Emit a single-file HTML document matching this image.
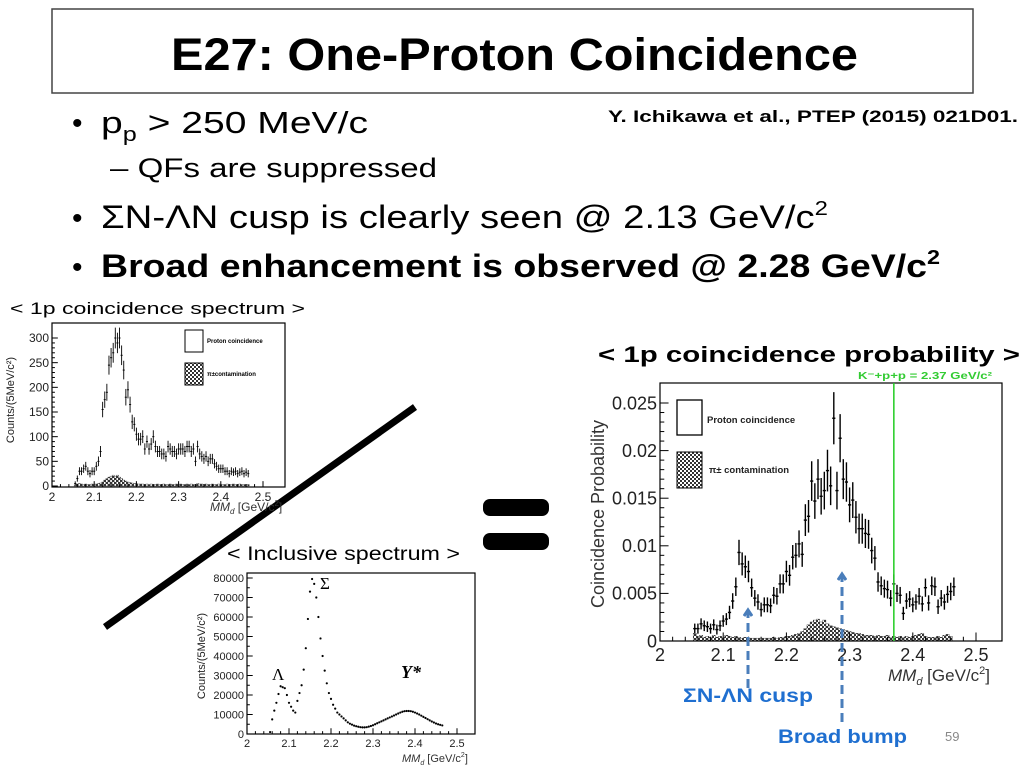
<!DOCTYPE html>
<html><head><meta charset="utf-8"><style>
html,body{margin:0;padding:0;background:#fff;}
svg{display:block;font-family:"Liberation Sans",sans-serif;}
</style></head><body>
<svg id="s" width="1024" height="768" viewBox="0 0 1024 768" xmlns="http://www.w3.org/2000/svg">
<defs>
<pattern id="chk" width="4" height="4" patternUnits="userSpaceOnUse"><rect width="4" height="4" fill="#fff"/><rect width="2" height="2" fill="#333"/><rect x="2" y="2" width="2" height="2" fill="#333"/></pattern>
<marker id="ah" markerWidth="10" markerHeight="10" refX="5" refY="5" orient="auto" markerUnits="userSpaceOnUse"><path d="M1,1 L7,5 L1,9" fill="none" stroke="#4a7ebb" stroke-width="3"/></marker>
</defs>
<rect x="52" y="9" width="921" height="84" fill="#fff" stroke="#444" stroke-width="1.5"/>
<text x="171" y="70" font-size="45" font-weight="bold" textLength="687" lengthAdjust="spacingAndGlyphs">E27: One-Proton Coincidence</text>
<g>
<text x="72" y="133" font-size="30">•</text>
<text x="101" y="133" font-size="31" textLength="267" lengthAdjust="spacingAndGlyphs">p<tspan font-size="20" dy="8">p</tspan><tspan dy="-8"> &gt; 250 MeV/c</tspan></text>
<text x="110" y="177" font-size="27" textLength="327" lengthAdjust="spacingAndGlyphs">– QFs are suppressed</text>
<text x="72" y="228" font-size="30">•</text>
<text x="101" y="228" font-size="32" textLength="727" lengthAdjust="spacingAndGlyphs">ΣN-ΛN cusp is clearly seen @ 2.13 GeV/c<tspan font-size="20" dy="-13">2</tspan></text>
<text x="72" y="277" font-size="30">•</text>
<text x="101" y="277" font-size="32" font-weight="bold" textLength="839" lengthAdjust="spacingAndGlyphs">Broad enhancement is observed @ 2.28 GeV/c<tspan font-size="20" dy="-13">2</tspan></text>
</g>
<text x="608" y="122" font-size="17" font-weight="bold" textLength="410" lengthAdjust="spacingAndGlyphs">Y. Ichikawa et al., PTEP (2015) 021D01.</text>
<text x="10" y="314" font-size="17" textLength="295" lengthAdjust="spacingAndGlyphs">&lt; 1p coincidence spectrum &gt;</text>
<text x="598" y="362" font-size="22" font-weight="bold" textLength="422" lengthAdjust="spacingAndGlyphs">&lt; 1p coincidence probability &gt;</text>
<text x="227" y="560" font-size="19" textLength="233" lengthAdjust="spacingAndGlyphs">&lt; Inclusive spectrum &gt;</text>
<line x1="105" y1="627" x2="415" y2="407" stroke="#000" stroke-width="7"/>
<g>
<rect x="483" y="499" width="66" height="17" rx="7" fill="#000"/>
<rect x="483" y="533" width="66" height="17" rx="7" fill="#000"/>
</g>
<g id="c1"></g>
<g id="c2"></g>
<g id="c3"></g>
<line x1="748" y1="688" x2="748" y2="612" stroke="#4a7ebb" stroke-width="3" stroke-dasharray="9,5" marker-end="url(#ah)"/>
<line x1="842" y1="722" x2="842" y2="576" stroke="#4a7ebb" stroke-width="3" stroke-dasharray="9,5" marker-end="url(#ah)"/>
<text x="683" y="702" font-size="19" font-weight="bold" fill="#1f6fd0" textLength="130" lengthAdjust="spacingAndGlyphs">ΣN-ΛN cusp</text>
<text x="778" y="743" font-size="19" font-weight="bold" fill="#1f6fd0" textLength="129" lengthAdjust="spacingAndGlyphs">Broad bump</text>
<text x="945" y="741" font-size="13" fill="#888">59</text>
</svg>
<script>
// ---- chart 1: 1p coincidence spectrum ----
const c1Start = 2.055;
const c1Step = 0.005;
const c1Proton = [5,15,30,30,35,40,30,25,30,30,40,50,70,
155,175,190,245,260,270,300,290,300,265,235,180,195,165,130,125,105,
95,95,100,75,90,75,85,100,80,70,70,65,65,60,80,75,70,70,65,75,
75,75,70,80,80,70,75,50,80,65,60,55,60,50,55,55,45,40,35,35,
35,30,30,25,30,28,30,25,28,30,25,28,25];
const c1Pion = [2,4,5,4,3,4,3,3,4,3,4,5,6,8,12,15,18,20,22,20,22,18,15,12,10,8,7,6,5,5,
4,4,4,3,4,3,4,3,3,4,3,3,4,3,3,4,3,3,4,3,4,3,3,4,3,4,3,3,5,4,4,3,4,3,3,4,3,3,4,3,3,3,4,3,3,4,3,3,4,3,3,3,3];
const c1YTicks = [0,50,100,150,200,250,300];
const c1XTicks = [2,2.1,2.2,2.3,2.4,2.5];
// ---- chart 2: coincidence probability ----
const c2Start = 2.055;
const c2Step = 0.005;
const c2Proton = [0.0013,0.0013,0.0018,0.0016,0.0015,0.0013,0.0017,0.0012,0.0016,0.0021,0.0023,0.0030,0.0042,0.0057,0.0093,0.0081,0.0078,0.0073,0.0056,0.0045,
0.0041,0.0033,0.0038,0.0038,0.0037,0.0048,0.0047,0.0060,0.0060,0.0073,0.0069,0.0088,0.0090,0.0102,0.0091,0.0127,0.0131,0.0168,0.0147,0.0170,
0.0152,0.0158,0.0179,0.0163,0.0234,0.0158,0.0213,0.0170,0.0167,0.0143,0.0148,0.0130,0.0118,0.0118,0.0113,0.0112,0.0095,0.0087,0.0062,0.0058,
0.0055,0.0054,0.0045,0.0060,0.0050,0.0048,0.0029,0.0042,0.0044,0.0038,0.0041,0.0047,0.0039,0.0056,0.0040,0.0058,0.0057,
0.0036,0.0045,0.0041,0.0049,0.0052,0.0057];
const c2Pion = [0.0008,0.0005,0.0006,0.0004,0.0005,0.0004,0.0006,0.0004,0.0005,0.0004,0.0006,0.0005,0.0004,0.0005,0.0004,0.0003,0.0004,0.0003,0.0003,0.0003,
0.0003,0.0003,0.0003,0.0003,0.0003,0.0004,0.0003,0.0004,0.0004,0.0005,0.0005,0.0006,0.0007,0.0008,0.0010,0.0013,0.0017,0.0020,0.0022,0.0023,
0.0020,0.0022,0.0018,0.0016,0.0015,0.0014,0.0013,0.0012,0.0011,0.0010,0.0009,0.0008,0.0008,0.0007,0.0006,0.0006,0.0006,0.0005,0.0006,0.0005,
0.0005,0.0006,0.0004,0.0005,0.0004,0.0005,0.0004,0.0005,0.0004,0.0005,0.0006,0.0007,0.0008,0.0005,0.0004,0.0004,0.0004,
0.0005,0.0004,0.0006,0.0007,0.0005];
const c2YTicks = [0,0.005,0.01,0.015,0.02,0.025];
const c2YLabels = ["0","0.005","0.01","0.015","0.02","0.025"];
const c2XTicks = [2,2.1,2.2,2.3,2.4,2.5];
const c2Threshold = 2.37;
// ---- chart 3: inclusive spectrum ----
const c3Start = 2.055;
const c3Step = 0.005;
const c3Counts = [1000,7500,12000,16000,20500,24500,24000,23500,20000,16000,14000,12000,11000,17000,21000,25000,33000,44000,59000,73000,
79500,77000,70000,60000,49000,40000,32500,26000,21000,18000,15000,13000,11000,10000,9000,8000,7000,6000,5300,4800,
4300,4000,3700,3500,3400,3400,3500,3800,4100,4500,5000,5500,6000,6500,7000,7500,8000,8500,9000,9500,
10000,10500,11000,11400,11700,11800,11800,11700,11400,11000,10500,10000,9400,8800,8200,7600,7000,6400,5900,5400,5000,4700,4400];
const c3YTicks = [0,10000,20000,30000,40000,50000,60000,70000,80000];
const c3XTicks = [2,2.1,2.2,2.3,2.4,2.5];

const NS = "http://www.w3.org/2000/svg";
function mk(parent, tag, attrs, text){
  const e = document.createElementNS(NS, tag);
  for (const k in attrs) e.setAttribute(k, attrs[k]);
  if (text !== undefined) e.textContent = text;
  parent.appendChild(e);
  return e;
}
function scale(d0,d1,r0,r1){ return v => r0 + (v-d0)/(d1-d0)*(r1-r0); }

function frame(g, L, T, R, B, xs, ys, xTicks, yTicks, yLabels, fs, nMinorX, nMinorY){
  const f = mk(g,'rect',{x:L,y:T,width:R-L,height:B-T,fill:'none',stroke:'#000','stroke-width':1.2});
  
  
  const tl = (R-L)*0.025;
  for (let i=0;i<xTicks.length;i++){
    const x = xs(xTicks[i]);
    mk(g,'line',{x1:x,y1:B,x2:x,y2:B-tl,stroke:'#000'});
    const t = mk(g,'text',{x:x,y:B+fs+2,'font-size':fs,'text-anchor':'middle',fill:'#222'}, String(xTicks[i]));
    
    
    if (i<xTicks.length-1){
      for (let m=1;m<nMinorX;m++){
        const xm = xs(xTicks[i]+(xTicks[i+1]-xTicks[i])*m/nMinorX);
        mk(g,'line',{x1:xm,y1:B,x2:xm,y2:B-tl/2,stroke:'#000'});
      }
    }
  }
  for (let i=0;i<yTicks.length;i++){
    const y = ys(yTicks[i]);
    mk(g,'line',{x1:L,y1:y,x2:L+tl,y2:y,stroke:'#000'});
    const t = mk(g,'text',{x:L-3,y:y+fs*0.35,'font-size':fs,'text-anchor':'end',fill:'#222'}, yLabels[i]);
    
    
    if (i<yTicks.length-1){
      for (let m=1;m<nMinorY;m++){
        const ym = ys(yTicks[i]+(yTicks[i+1]-yTicks[i])*m/nMinorY);
        mk(g,'line',{x1:L,y1:ym,x2:L+tl/2,y2:ym,stroke:'#000'});
      }
    }
  }
}
function errPoints(g, start, step, vals, xs, ys, errFn, name, sw){
  for (let i=0;i<vals.length;i++){
    const xc = start + i*step;
    const x = xs(xc), y = ys(vals[i]);
    const e = errFn(vals[i]);
    const grp = mk(g,'g',{});
    
    
    mk(grp,'line',{x1:xs(xc-step/2),y1:y,x2:xs(xc+step/2),y2:y,stroke:'#000','stroke-width':sw});
    mk(grp,'line',{x1:x,y1:ys(vals[i]-e),x2:x,y2:ys(vals[i]+e),stroke:'#000','stroke-width':sw});
  }
}
function hatchBars(g, start, step, vals, xs, ys, name){
  for (let i=0;i<vals.length;i++){
    const xc = start + i*step;
    const y = ys(vals[i]), y0 = ys(0);
    const r = mk(g,'rect',{x:xs(xc-step/2),y:y,width:xs(xc+step/2)-xs(xc-step/2),height:Math.max(0,y0-y),fill:'url(#chk)',stroke:'#333','stroke-width':0.4});
    
    
  }
}

// chart 1
(function(){
  const g = document.getElementById('c1');
  const L=52,T=323,R=285,B=487;
  const xs = scale(2,2.5,52,263), ys = scale(0,300,486,338);
  hatchBars(g,c1Start,c1Step,c1Pion,xs,ys,'pion-bar');
  errPoints(g,c1Start,c1Step,c1Proton,xs,ys,v=>Math.sqrt(v)*1.1+2,'proton-point',0.9);
  frame(g,L,T,R,B,xs,ys,c1XTicks,c1YTicks,c1YTicks.map(String),12,5,5);
  mk(g,'text',{x:210,y:511,'font-size':12,fill:'#333'},'').innerHTML='<tspan font-style="italic">MM<tspan font-size="8" dy="3">d</tspan></tspan><tspan dy="-3"> [GeV/c</tspan><tspan font-size="8" dy="-5">2</tspan><tspan dy="5">]</tspan>';
  const yt = mk(g,'text',{x:0,y:0,'font-size':11,'text-anchor':'middle',transform:'translate(14,400) rotate(-90)',fill:'#222'},'Counts/(5MeV/c²)');
  
  
  mk(g,'rect',{x:185,y:330,width:18,height:22,fill:'#fff',stroke:'#000'});
  mk(g,'text',{x:207,y:343,'font-size':6,'font-weight':'bold'},'Proton coincidence');
  mk(g,'rect',{x:185,y:363,width:18,height:22,fill:'url(#chk)',stroke:'#000'});
  mk(g,'text',{x:207,y:376,'font-size':6,'font-weight':'bold'},'π±contamination');
})();

// chart 2
(function(){
  const g = document.getElementById('c2');
  const L=660,T=383,R=1002,B=641;
  const xs = scale(2,2.5,660,976), ys = scale(0,0.025,641,403);
  hatchBars(g,c2Start,c2Step,c2Pion,xs,ys,'pion-bar');
  errPoints(g,c2Start,c2Step,c2Proton,xs,ys,v=>0.0004+v*0.1,'proton-point',1.4);
  frame(g,L,T,R,B,xs,ys,c2XTicks,c2YTicks,c2YLabels,18,5,5);
  const gx = xs(c2Threshold);
  const gl = mk(g,'line',{x1:gx,y1:T,x2:gx,y2:B,stroke:'#22cc22','stroke-width':1.5});
  
  
  mk(g,'text',{x:858,y:379,'font-size':10,'font-weight':'bold',fill:'#33cc33',textLength:134,lengthAdjust:'spacingAndGlyphs'},'K⁻+p+p = 2.37 GeV/c²');
  mk(g,'text',{x:888,y:681,'font-size':17,fill:'#333'},'').innerHTML='<tspan font-style="italic">MM<tspan font-size="11" dy="4">d</tspan></tspan><tspan dy="-4"> [GeV/c</tspan><tspan font-size="11" dy="-7">2</tspan><tspan dy="7">]</tspan>';
  const yt = mk(g,'text',{x:0,y:0,'font-size':18,'text-anchor':'middle',transform:'translate(604,514) rotate(-90)',fill:'#333'},'Coincidence Probability');
  
  
  mk(g,'rect',{x:677,y:400,width:25,height:35,fill:'#fff',stroke:'#000','stroke-width':1.3});
  mk(g,'text',{x:707,y:423,'font-size':9.5,'font-weight':'bold',fill:'#222'},'Proton coincidence');
  mk(g,'rect',{x:677,y:452,width:25,height:36,fill:'url(#chk)',stroke:'#000'});
  mk(g,'text',{x:709,y:473,'font-size':9.5,'font-weight':'bold',fill:'#222'},'π± contamination');
})();

// chart 3
(function(){
  const g = document.getElementById('c3');
  const L=247,T=573,R=475,B=734;
  const xs = scale(2,2.5,247,457), ys = scale(0,80000,734,578);
  for (let i=0;i<c3Counts.length;i++){
    const p = mk(g,'circle',{cx:xs(c3Start+i*c3Step),cy:ys(c3Counts[i]),r:1.1,fill:'#000'});
    
    
  }
  frame(g,L,T,R,B,xs,ys,c3XTicks,c3YTicks,c3YTicks.map(String),11,5,2);
  mk(g,'text',{x:402,y:762,'font-size':11,fill:'#333'},'').innerHTML='<tspan font-style="italic">MM<tspan font-size="7" dy="3">d</tspan></tspan><tspan dy="-3"> [GeV/c</tspan><tspan font-size="7" dy="-5">2</tspan><tspan dy="5">]</tspan>';
  const yt = mk(g,'text',{x:0,y:0,'font-size':11,'text-anchor':'middle',transform:'translate(205,656) rotate(-90)',fill:'#222'},'Counts/(5MeV/c²)');
  
  
  mk(g,'text',{x:272,y:680,'font-size':17,'font-family':'Liberation Serif'},'Λ');
  mk(g,'text',{x:320,y:589,'font-size':17,'font-family':'Liberation Serif'},'Σ');
  mk(g,'text',{x:401,y:678,'font-size':18,'font-weight':'bold','font-style':'italic','font-family':'Liberation Serif'},'Y*');
})();
</script>
</body></html>
